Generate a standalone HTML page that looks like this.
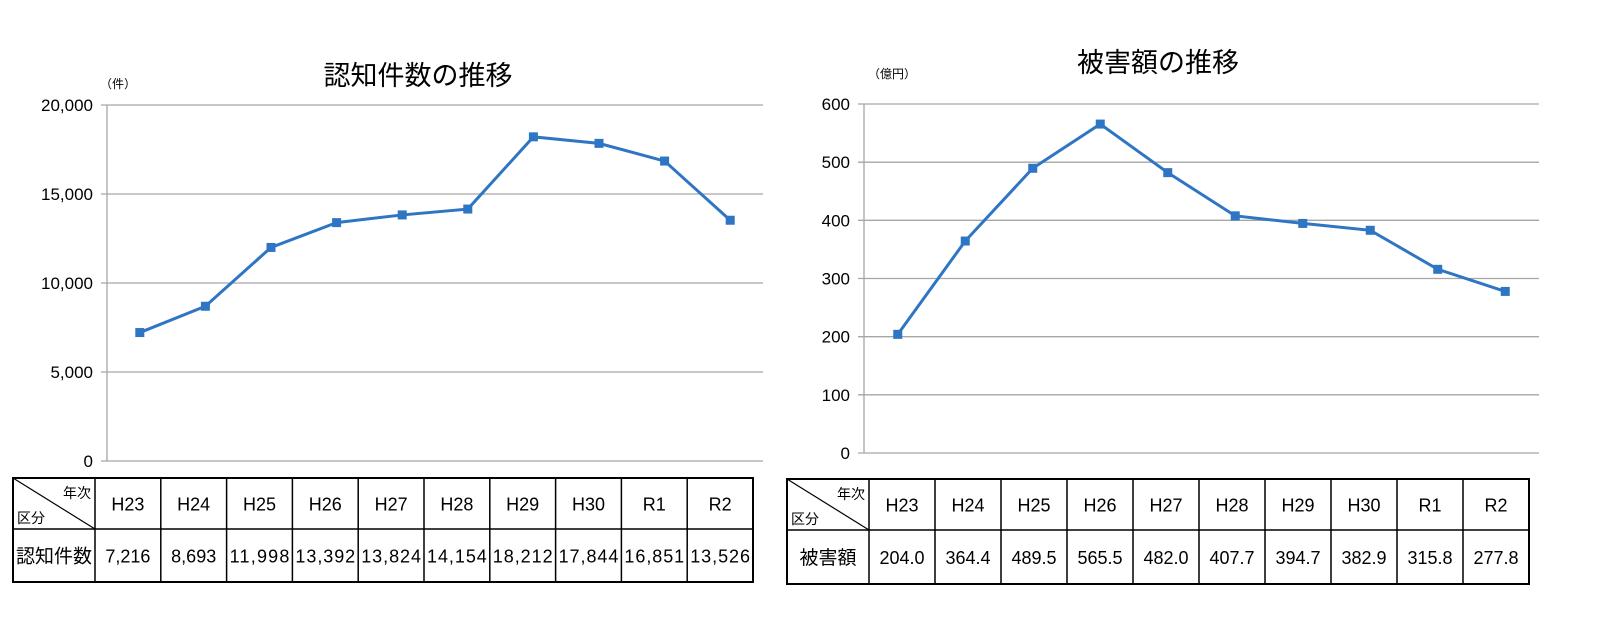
<!DOCTYPE html>
<html><head><meta charset="utf-8"><style>
body{margin:0;background:#fff;width:1600px;height:622px;overflow:hidden}
svg text{font-family:"Liberation Sans","Noto Sans CJK JP",sans-serif;fill:#000}
</style></head><body>
<svg id="s" width="1600" height="622" xmlns="http://www.w3.org/2000/svg"></svg>
<script>
const categories=["H23","H24","H25","H26","H27","H28","H29","H30","R1","R2"];
const countValues=[7216,8693,11998,13392,13824,14154,18212,17844,16851,13526];
const countLabels=["7,216","8,693","11,998","13,392","13,824","14,154","18,212","17,844","16,851","13,526"];
const countTicks=["0","5,000","10,000","15,000","20,000"];
const damageValues=[204.0,364.4,489.5,565.5,482.0,407.7,394.7,382.9,315.8,277.8];
const damageLabels=["204.0","364.4","489.5","565.5","482.0","407.7","394.7","382.9","315.8","277.8"];
const damageTicks=["0","100","200","300","400","500","600"];

const NS="http://www.w3.org/2000/svg";
const svg=document.getElementById('s');
function mk(tag,attrs,parent,text){const e=document.createElementNS(NS,tag);for(const k in attrs)e.setAttribute(k,attrs[k]);if(text!==undefined)e.textContent=text;(parent||svg).appendChild(e);return e;}

function chart(o){
  const g=mk('g',{});
  
  
  const n=o.cats.length, bw=(o.x1-o.x0)/n;
  const xs=i=>o.x0+bw*(i+0.5);
  const ys=v=>o.yb-(v/o.max)*(o.yb-o.yt);
  o.ticks.forEach((t,i)=>{
    const v=o.max*i/(o.ticks.length-1), y=ys(v);
    const l=mk('line',{x1:o.x0-6,x2:o.x1,y1:y,y2:y,stroke:'#a6a6a6','stroke-width':1.3},g);
    
    
    const tx=mk('text',{x:o.x0-14,y:y+6,'text-anchor':'end','font-size':17},g,t);
    
    
  });
  const ax=mk('line',{x1:o.x0,x2:o.x0,y1:o.yt,y2:o.yb,stroke:'#a6a6a6','stroke-width':1.3},g);
  
  
  const pts=o.vals.map((v,i)=>xs(i)+','+ys(v)).join(' ');
  const pl=mk('polyline',{points:pts,fill:'none',stroke:'#2e75c3','stroke-width':3},g);
  
  
  o.vals.forEach((v,i)=>{
    const r=mk('rect',{x:xs(i)-4.5,y:ys(v)-4.5,width:9,height:9,fill:'#2e75c3'},g);
    
    
  });
  const ti=mk('text',{x:o.tx,y:o.ty,'text-anchor':'middle','font-size':27},g,o.title);
  
  
  const un=mk('text',{x:o.ux,y:o.uy,'font-size':12},g,o.unit);
  
  
  // table
  const tb=mk('g',{},g);
  
  
  const T=o.tbl; const cw=(T.x2-T.x1)/n;
  mk('rect',{x:T.x0,y:T.y0,width:T.x2-T.x0,height:T.y2-T.y0,fill:'none',stroke:'#000','stroke-width':2},tb);
  mk('line',{x1:T.x0,x2:T.x2,y1:T.y1,y2:T.y1,stroke:'#000','stroke-width':1.5},tb);
  mk('line',{x1:T.x1,x2:T.x1,y1:T.y0,y2:T.y2,stroke:'#000','stroke-width':1.5},tb);
  mk('line',{x1:T.x0,x2:T.x1,y1:T.y0,y2:T.y1,stroke:'#000','stroke-width':1.2},tb);
  mk('text',{x:T.x1-4,y:T.y0+20,'text-anchor':'end','font-size':14},tb,'年次');
  mk('text',{x:T.x0+4,y:T.y1-6,'font-size':14},tb,'区分');
  mk('text',{x:(T.x0+T.x1)/2,y:(T.y1+T.y2)/2+7,'text-anchor':'middle','font-size':19},tb,o.rowName);
  for(let i=0;i<n;i++){
    const cx=T.x1+cw*(i+0.5);
    if(i>0)mk('line',{x1:T.x1+cw*i,x2:T.x1+cw*i,y1:T.y0,y2:T.y2,stroke:'#000','stroke-width':1.5},tb);
    const h=mk('text',{x:cx,y:(T.y0+T.y1)/2+7,'text-anchor':'middle','font-size':18},tb,o.cats[i]);
    
    
    const c=mk('text',{x:cx,y:(T.y1+T.y2)/2+7,'text-anchor':'middle','font-size':18,textLength:o.labels[i].length>5?cw-6:null},tb,o.labels[i]);
    if(!(o.labels[i].length>5))c.removeAttribute('textLength');
    
    
  }
}
chart({name:'count-chart',cats:categories,vals:countValues,labels:countLabels,ticks:countTicks,max:20000,
  x0:107,x1:763,yt:105,yb:461,title:'認知件数の推移',tx:418,ty:85,unit:'（件）',ux:100,uy:88,rowName:'認知件数',
  tbl:{x0:13,x1:95,x2:753,y0:478,y1:529,y2:582}});
chart({name:'damage-chart',cats:categories,vals:damageValues,labels:damageLabels,ticks:damageTicks,max:600,
  x0:864,x1:1539,yt:104,yb:453,title:'被害額の推移',tx:1158,ty:72,unit:'（億円）',ux:868,uy:78,rowName:'被害額',
  tbl:{x0:787,x1:869,x2:1529,y0:479,y1:530,y2:584}});
</script>
</body></html>
